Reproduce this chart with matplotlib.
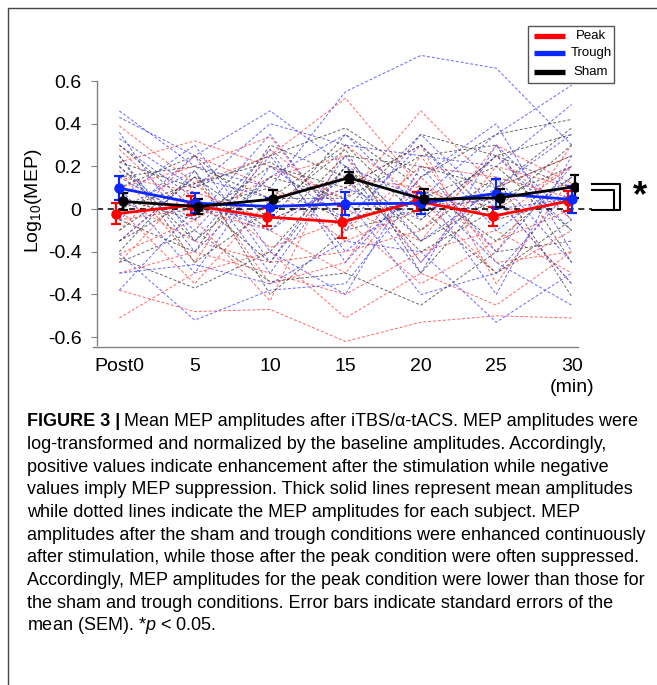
import numpy as np
import matplotlib.pyplot as plt
from matplotlib.patches import Rectangle

plt.rcParams['font.family'] = ['Liberation Sans', 'DejaVu Sans']
plt.rcParams['mathtext.fontset'] = 'custom'
plt.rcParams['mathtext.rm'] = 'Liberation Sans'
plt.rcParams['mathtext.it'] = 'Liberation Sans:italic'

# time points (Post0 ... 30 min)
times = np.arange(7)
time_labels = ['Post0', '5', '10', '15', '20', '25', '30']
ytick_vals = [0.6, 0.4, 0.2, 0, -0.2, -0.4, -0.6]
ytick_labels = ['0.6', '0.4', '0.2', '0', '-0.4', '-0.4', '-0.6']   # as printed in the figure

# group means and SEM
peak_mean = [-0.022, 0.018, -0.037, -0.061, 0.037, -0.033, 0.037]
peak_sem = [0.050, 0.045, 0.043, 0.074, 0.045, 0.045, 0.047]
trough_mean = [0.098, 0.028, 0.012, 0.025, 0.027, 0.073, 0.045]
trough_sem = [0.055, 0.047, 0.040, 0.055, 0.050, 0.070, 0.062]
sham_mean = [0.036, 0.012, 0.047, 0.147, 0.045, 0.053, 0.105]
sham_sem = [0.040, 0.035, 0.043, 0.027, 0.048, 0.043, 0.053]

# single subjects (dotted lines)
peak_subj = [
    [0.39, 0.12, 0.25, 0.52, 0.10, -0.05, 0.20],
    [-0.38, -0.48, -0.47, -0.62, -0.53, -0.50, -0.51],
    [-0.51, -0.30, -0.20, -0.51, -0.30, -0.45, -0.20],
    [0.22, 0.32, 0.20, 0.05, 0.46, 0.10, 0.25],
    [-0.21, -0.05, -0.43, 0.30, 0.05, -0.30, -0.10],
    [0.10, 0.20, 0.34, -0.10, 0.20, 0.15, 0.05],
    [-0.05, 0.00, -0.10, -0.30, 0.15, -0.20, 0.30],
    [0.05, -0.15, -0.25, -0.20, -0.10, 0.25, -0.05],
    [-0.30, -0.20, -0.30, -0.40, -0.20, -0.10, -0.30],
    [0.15, 0.08, -0.05, 0.10, 0.30, -0.35, 0.15],
    [-0.10, 0.25, 0.10, -0.15, 0.00, 0.05, -0.35],
    [0.28, -0.05, 0.15, 0.25, -0.25, 0.20, 0.10],
    [-0.25, 0.12, -0.18, -0.05, -0.35, -0.15, 0.00],
    [0.00, -0.35, 0.05, 0.15, 0.10, 0.00, 0.20],
    [-0.15, 0.15, -0.35, -0.25, 0.25, -0.25, -0.20],
    [0.18, -0.25, 0.28, 0.00, -0.15, 0.30, 0.12],
]
trough_subj = [
    [0.46, 0.20, 0.10, 0.55, 0.72, 0.66, 0.30],
    [0.43, 0.25, 0.46, 0.20, 0.05, 0.35, 0.58],
    [0.33, 0.10, 0.40, 0.30, 0.25, 0.20, 0.49],
    [-0.30, -0.26, -0.35, -0.15, -0.20, -0.53, -0.30],
    [-0.21, -0.52, -0.38, -0.35, 0.10, -0.25, -0.45],
    [0.30, 0.05, -0.10, 0.15, -0.30, 0.30, -0.05],
    [0.10, -0.30, 0.20, -0.05, 0.30, -0.10, 0.15],
    [-0.05, 0.25, -0.25, 0.25, -0.15, 0.10, 0.35],
    [0.20, -0.10, 0.28, -0.25, 0.15, 0.40, -0.20],
    [-0.15, 0.15, 0.05, 0.05, -0.40, -0.30, 0.10],
    [0.25, -0.20, 0.15, 0.35, 0.00, 0.05, -0.35],
    [0.05, 0.30, -0.20, -0.40, 0.20, -0.20, 0.20],
    [-0.38, 0.00, -0.05, 0.10, -0.05, 0.25, -0.10],
    [0.15, -0.05, 0.35, -0.10, 0.35, 0.00, 0.05],
    [0.00, 0.18, -0.30, 0.20, -0.25, 0.15, -0.25],
    [0.36, -0.15, 0.25, -0.20, 0.10, -0.40, 0.25],
]
sham_subj = [
    [0.22, 0.10, 0.25, 0.38, 0.15, 0.35, 0.42],
    [-0.23, -0.37, -0.20, 0.20, -0.10, 0.15, -0.41],
    [-0.25, -0.10, -0.34, -0.30, -0.45, -0.20, -0.15],
    [0.15, 0.20, 0.05, 0.30, -0.05, 0.25, 0.35],
    [0.05, -0.05, 0.20, 0.10, 0.30, -0.05, 0.05],
    [-0.10, 0.15, -0.10, 0.25, 0.20, 0.10, 0.25],
    [0.30, 0.00, 0.10, -0.05, 0.05, 0.20, -0.10],
    [-0.05, -0.20, 0.30, 0.15, -0.20, 0.00, 0.30],
    [0.10, 0.25, -0.05, 0.35, 0.10, -0.15, 0.15],
    [0.20, -0.15, 0.15, 0.05, 0.25, 0.30, -0.25],
    [-0.15, 0.05, -0.25, 0.20, -0.15, 0.05, 0.20],
    [0.00, 0.12, 0.22, 0.00, 0.35, 0.25, 0.10],
    [0.25, -0.25, 0.00, 0.28, -0.30, 0.10, 0.38],
    [-0.20, 0.18, -0.40, -0.10, 0.00, -0.30, -0.05],
]

caption = [
    "Mean MEP amplitudes after iTBS/\u03b1-tACS. MEP amplitudes were",
    "log-transformed and normalized by the baseline amplitudes. Accordingly,",
    "positive values indicate enhancement after the stimulation while negative",
    "values imply MEP suppression. Thick solid lines represent mean amplitudes",
    "while dotted lines indicate the MEP amplitudes for each subject. MEP",
    "amplitudes after the sham and trough conditions were enhanced continuously",
    "after stimulation, while those after the peak condition were often suppressed.",
    "Accordingly, MEP amplitudes for the peak condition were lower than those for",
    "the sham and trough conditions. Error bars indicate standard errors of the",
    "mean (SEM). *$p$ < 0.05.",
]

fig = plt.figure(figsize=(6.57, 6.85), dpi=100)

# overlay in pixel units for the frame, caption and legend
ov = fig.add_axes([0, 0, 1, 1])
ov.set_xlim(0, 657)
ov.set_ylim(685, 0)
ov.axis('off')
ov.plot([8, 8, 657], [685, 8, 8], color='#444444', lw=1)

ax = fig.add_axes([93/657, 1-347/685, 485/657, 266/685])
ax.set_zorder(2)
ax.patch.set_visible(False)
ax.set_xlim(-0.349, 6.084)
ax.set_ylim(-0.646, 0.6)

for subj, col in [(peak_subj, '#ff4040'), (trough_subj, '#4040ff'), (sham_subj, '#404040')]:
    for s in subj:
        ax.plot(times, s, color=col, lw=0.7, ls=(0, (3, 2)), alpha=0.8, clip_on=False, zorder=1)

ax.plot([-0.30, 6.27], [0, 0], color='black', lw=1.1, ls=(0, (4, 3)), clip_on=False, zorder=2)

groups = [(peak_mean, peak_sem, 'red', -0.045),
          (trough_mean, trough_sem, '#0a28ff', 0.0),
          (sham_mean, sham_sem, 'black', 0.045)]
for m, e, col, dx in groups:
    ax.errorbar(times + dx, m, yerr=e, color=col, lw=2, marker='o', ms=6.5,
                elinewidth=1.6, capsize=3.5, capthick=1.6, zorder=3)

# significance bracket
ax.plot([6.27, 6.64, 6.64, 6.27], [0.117, 0.117, -0.003, -0.003], color='black', lw=1.5, clip_on=False)
ax.plot([6.27, 6.56, 6.56], [0.089, 0.089, -0.003], color='black', lw=1.5, clip_on=False)
ax.text(6.9, 0.058, '*', fontsize=26, fontweight='bold', ha='center', va='center', clip_on=False)

ax.spines['top'].set_visible(False)
ax.spines['right'].set_visible(False)
ax.spines['left'].set_position(('data', -0.30))
ax.spines['left'].set_bounds(-0.636, 0.6)
for sp in ['left', 'bottom']:
    ax.spines[sp].set_color('#808080')
    ax.spines[sp].set_linewidth(1)
ax.set_yticks(ytick_vals)
ax.set_yticklabels(ytick_labels)
ax.set_xticks(times)
ax.set_xticklabels(time_labels)
ax.tick_params(axis='y', length=4, color='#808080', pad=7, labelsize=14)
ax.tick_params(axis='x', length=0, pad=8, labelsize=14)
ax.text(6.0, -0.835, '(min)', fontsize=14, ha='center', va='center', clip_on=False)

fig.text(33/657, 1-201/685, r'Log$_{\mathregular{10}}$(MEP)', rotation=90, fontsize=14,
         ha='center', va='center')

# legend
ov.add_patch(Rectangle((528, 26), 86, 57, fill=False, edgecolor='#555555', lw=1))
for yy, col, lab in [(36, 'red', 'Peak'), (53, '#0a28ff', 'Trough'), (72, 'black', 'Sham')]:
    ov.plot([534, 565], [yy, yy], color=col, lw=3.8, solid_capstyle='butt')
    ov.text(591, yy, lab, fontsize=9.5, ha='center', va='center')

# caption
fs = 13
y0, dy = 421.7, 22.7
b = ov.text(27, y0, 'FIGURE 3 |', fontsize=fs, fontweight='bold', va='center')
fig.canvas.draw()
bb = b.get_window_extent()
ov.text(bb.x1 + 4, y0, caption[0], fontsize=fs, va='center')
for i, line in enumerate(caption[1:], start=1):
    ov.text(27, y0 + i*dy, line, fontsize=fs, va='center')

fig.savefig('out.png', dpi=100)
